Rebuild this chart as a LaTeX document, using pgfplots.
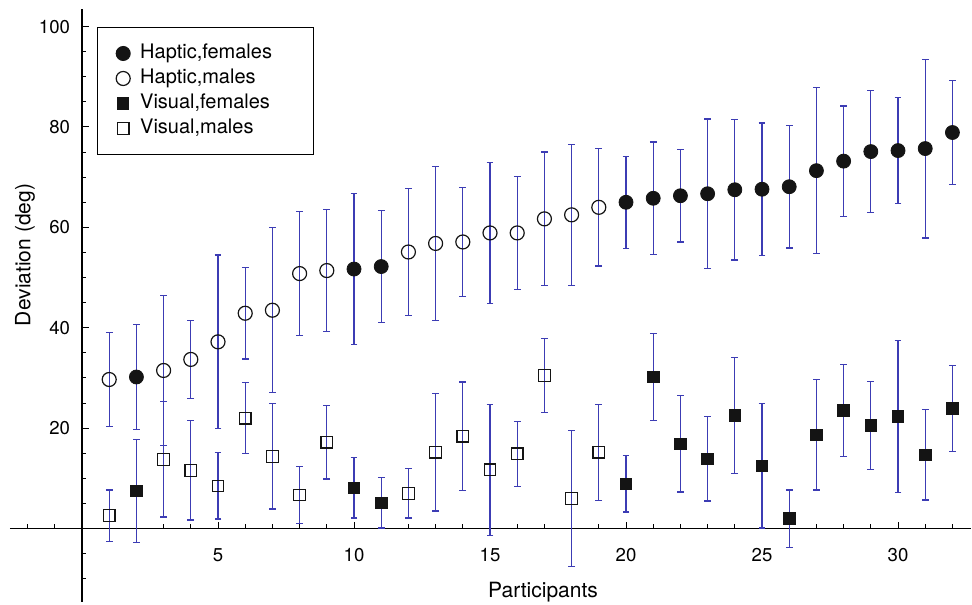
\documentclass[border=0pt]{standalone}
\usepackage{pgfplots}
\pgfplotsset{compat=1.18}
\usepackage{pgfplotstable}
\usepackage{fontspec}
\setmainfont{TeX Gyre Heros}
\definecolor{ebar}{RGB}{60,60,180}
\definecolor{mk}{RGB}{20,20,20}

\pgfplotstableread{
x y e
2 30.2 10.5
10 51.7 15.1
11 52.2 11.2
20 65.0 9.2
21 65.8 11.2
22 66.3 9.2
23 66.7 14.9
24 67.5 14.0
25 67.6 13.2
26 68.1 12.2
27 71.3 16.5
28 73.2 11.0
29 75.1 12.2
30 75.3 10.5
31 75.7 17.8
32 78.9 10.3
}\hapticF
\pgfplotstableread{
x y e
1 29.7 9.4
3 31.5 14.9
4 33.7 7.8
5 37.2 17.3
6 42.9 9.1
7 43.5 16.4
8 50.8 12.3
9 51.4 12.2
12 55.1 12.7
13 56.8 15.3
14 57.1 10.9
15 58.9 14.0
16 58.9 11.3
17 61.7 13.3
18 62.5 14.0
19 64.0 11.7
}\hapticM
\pgfplotstableread{
x y e
2 7.5 10.2
10 8.1 6.0
11 5.1 5.0
20 8.9 5.6
21 30.2 8.7
22 16.9 9.6
23 13.9 8.4
24 22.5 11.6
25 12.5 12.4
26 2.0 5.7
27 18.7 11.0
28 23.5 9.2
29 20.5 8.8
30 22.3 15.1
31 14.7 9.0
32 23.9 8.6
}\visualF
\pgfplotstableread{
x y e
1 2.6 5.1
3 13.8 11.5
4 11.6 9.9
5 8.5 6.6
6 22.0 7.1
7 14.4 10.5
8 6.7 5.7
9 17.2 7.3
12 7.0 4.9
13 15.2 11.7
14 18.4 10.8
15 11.7 13.0
16 14.9 6.5
17 30.5 7.3
18 6.0 13.6
19 15.2 9.6
}\visualM

\begin{document}
\begin{tikzpicture}
\begin{axis}[
  x=13.6pt, y=2.51pt,
  xmin=-2.65, xmax=32.7, ymin=-14.6, ymax=103.5,
  axis lines=middle,
  axis line style={-, line width=0.7pt, black},
  clip=false,
  xtick={5,10,15,20,25,30},
  minor xtick={-2,-1,...,32},
  ytick={20,40,60,80,100},
  minor ytick={-10,-5,...,100},
  tick align=inside,
  major tick length=3.3pt,
  minor tick length=2.2pt,
  every tick/.style={black, line width=0.5pt},
  /pgf/number format/assume math mode=true,
  ticklabel style={font=\fontsize{9.3}{11}\selectfont},
  xticklabel style={yshift=-6.5pt},
  yticklabel style={xshift=-2.5pt},
  xlabel={Participants},
  ylabel={Deviation (deg)},
  every axis x label/.style={at={(axis cs:16.95,-12.6)}, anchor=center, font=\fontsize{10.5}{12}\selectfont},
  every axis y label/.style={at={(axis cs:-2.1,54.5)}, anchor=center, rotate=90, font=\fontsize{10.5}{12}\selectfont},
  legend style={at={(axis cs:0.54,100)}, anchor=north west, draw=black, line width=0.5pt,
    inner xsep=4.5pt, inner ysep=7.7pt, row sep=1.5pt,
    font=\fontsize{10}{12}\selectfont,
    nodes={inner ysep=0.5pt, text height=7.5pt, text depth=2.5pt, text width=80pt}},
  legend cell align=left,
  legend image code/.code={%
    \path[draw=none, fill=none] (0pt,-3pt) rectangle (15pt,3pt);
    \draw[#1] plot coordinates {(8.5pt,0pt)};},
  error bars/error bar style={draw=ebar, line width=0.6pt},
  error bars/error mark options={draw=ebar, rotate=90, line width=0.6pt, mark size=1.7pt},
]
\addplot[only marks, mark=*, mark size=3.5pt, mark options={draw=mk, fill=mk},
  error bars/.cd, y dir=both, y explicit] table[x=x, y=y, y error=e] {\hapticF};
\addlegendentry{Haptic,females}
\addplot[only marks, mark=o, mark size=3.5pt, mark options={draw=mk, line width=0.6pt},
  error bars/.cd, y dir=both, y explicit] table[x=x, y=y, y error=e] {\hapticM};
\addlegendentry{Haptic,males}
\addplot[only marks, mark=square*, mark size=2.9pt, mark options={draw=mk, fill=mk},
  error bars/.cd, y dir=both, y explicit] table[x=x, y=y, y error=e] {\visualF};
\addlegendentry{Visual,females}
\addplot[only marks, mark=square, mark size=2.9pt, mark options={draw=mk, line width=0.6pt},
  error bars/.cd, y dir=both, y explicit] table[x=x, y=y, y error=e] {\visualM};
\addlegendentry{Visual,males}
\coordinate (bbl) at (axis cs:-3.015,-15.04);
\coordinate (btr) at (axis cs:32.72,105.3);
\end{axis}
\pgfresetboundingbox
\path[use as bounding box] (bbl) rectangle (btr);
\end{tikzpicture}
\end{document}
